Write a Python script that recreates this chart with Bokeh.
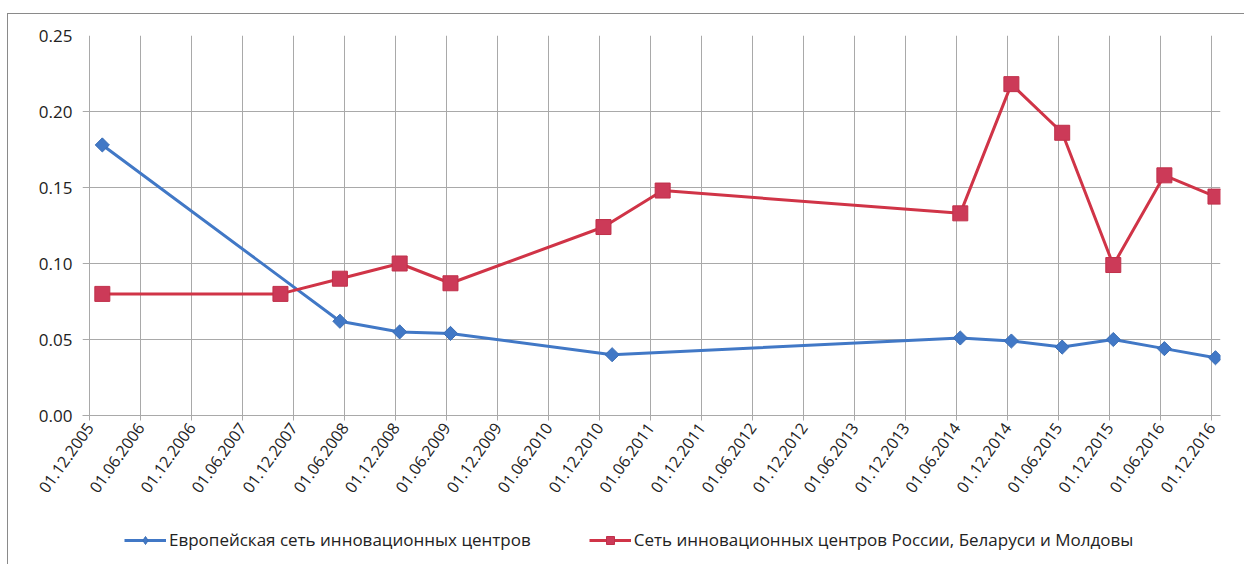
from datetime import datetime, timedelta
from math import pi

from bokeh.embed import file_html
from bokeh.layouts import column
from bokeh.models import (DatetimeTickFormatter, FixedTicker, Legend,
                          LegendItem, NumeralTickFormatter, Range1d)
from bokeh.plotting import figure
from bokeh.resources import INLINE

# Axis ticks: every half year from 01.12.2005 to 01.12.2016
tick_labels = [
    "01.12.2005", "01.06.2006", "01.12.2006", "01.06.2007", "01.12.2007",
    "01.06.2008", "01.12.2008", "01.06.2009", "01.12.2009", "01.06.2010",
    "01.12.2010", "01.06.2011", "01.12.2011", "01.06.2012", "01.12.2012",
    "01.06.2013", "01.12.2013", "01.06.2014", "01.12.2014", "01.06.2015",
    "01.12.2015", "01.06.2016", "01.12.2016",
]
y_ticks = [0.00, 0.05, 0.10, 0.15, 0.20, 0.25]

# European network of innovation centres
eu_dates = [
    "15.01.2006", "15.05.2008", "15.12.2008", "15.06.2009", "15.01.2011",
    "15.06.2014", "15.12.2014", "15.06.2015", "15.12.2015", "15.06.2016",
    "15.12.2016",
]
eu_values = [0.178, 0.062, 0.055, 0.054, 0.040, 0.051, 0.049, 0.045, 0.050,
             0.044, 0.038]

# Network of innovation centres of Russia, Belarus and Moldova
rbm_dates = [
    "15.01.2006", "15.10.2007", "15.05.2008", "15.12.2008", "15.06.2009",
    "15.12.2010", "15.07.2011", "15.06.2014", "15.12.2014", "15.06.2015",
    "15.12.2015", "15.06.2016", "15.12.2016",
]
rbm_values = [0.080, 0.080, 0.090, 0.100, 0.087, 0.124, 0.148, 0.133, 0.218,
              0.186, 0.099, 0.158, 0.144]

eu_name = "Европейская сеть инновационных центров"
rbm_name = "Сеть инновационных центров России, Беларуси и Молдовы"


def parse(s):
    return datetime.strptime(s, "%d.%m.%Y")


def ms(d):
    return d.timestamp() * 1000.0


ticks = [ms(parse(t)) for t in tick_labels]
eu_x = [parse(d) for d in eu_dates]
rbm_x = [parse(d) for d in rbm_dates]

FONT = "Open Sans"
TEXT = "#222222"
GRID = "#a9a9a9"
BLUE = "#4178c6"
BLUE_EDGE = "#3a6db5"
RED = "#d03447"
RED_MARK = "#cc3a58"
RED_EDGE = "#c0304a"

x_start = parse(tick_labels[0]) - timedelta(days=26)
x_end = parse(tick_labels[-1]) + timedelta(days=32)

p = figure(
    width=1236, height=501,
    x_axis_type="datetime",
    x_range=Range1d(x_start, x_end),
    y_range=Range1d(0, 0.25),
    output_backend="svg", toolbar_location=None,
    min_border_left=74, min_border_right=24,
    min_border_top=21, min_border_bottom=100,
    background_fill_color="white", border_fill_color="white",
)
p.outline_line_color = None

# x axis
p.xaxis.ticker = FixedTicker(ticks=ticks)
p.xaxis.formatter = DatetimeTickFormatter(
    days="%d.%m.%Y", months="%d.%m.%Y", years="%d.%m.%Y")
p.xaxis.major_label_orientation = 0.95
p.xaxis.major_label_text_font = FONT
p.xaxis.major_label_text_font_size = "16px"
p.xaxis.major_label_text_color = TEXT
p.xaxis.axis_line_color = GRID
p.xaxis.major_tick_line_color = GRID
p.xaxis.major_tick_out = 5
p.xaxis.major_tick_in = 0
p.xaxis.minor_tick_line_color = None
p.xaxis.major_label_standoff = 4

# y axis
p.yaxis.ticker = FixedTicker(ticks=y_ticks)
p.yaxis.formatter = NumeralTickFormatter(format="0.00")
p.yaxis.major_label_text_font = FONT
p.yaxis.major_label_text_font_size = "17px"
p.yaxis.major_label_text_color = TEXT
p.yaxis.axis_line_color = None
p.yaxis.major_tick_line_color = None
p.yaxis.major_tick_out = 0
p.yaxis.major_tick_in = 0
p.yaxis.minor_tick_line_color = None
p.yaxis.major_label_standoff = 10

p.xgrid.grid_line_color = GRID
p.ygrid.grid_line_color = GRID

# series (blue markers are squares turned 45 degrees)
p.line(eu_x, eu_values, line_color=BLUE, line_width=3)
p.scatter(eu_x, eu_values, marker="square", size=10, angle=pi / 4,
          fill_color=BLUE, line_color=BLUE_EDGE, line_width=1)
p.line(rbm_x, rbm_values, line_color=RED, line_width=3)
p.scatter(rbm_x, rbm_values, marker="square", size=15,
          fill_color=RED_MARK, line_color=RED_EDGE, line_width=1)

# legend strip under the chart; its key glyphs sit outside the visible range
lf = figure(
    width=1236, height=49,
    x_range=Range1d(0, 1), y_range=Range1d(0, 1),
    output_backend="svg", toolbar_location=None,
    min_border=0, background_fill_color="white", border_fill_color="white",
)
lf.axis.visible = False
lf.grid.visible = False
lf.outline_line_color = None
off = [-5, -4]
k_eu_line = lf.line(off, off, line_color=BLUE, line_width=3)
k_eu_pts = lf.scatter(off, off, marker="diamond", size=12,
                      fill_color=BLUE, line_color=BLUE_EDGE)
k_rbm_line = lf.line(off, off, line_color=RED, line_width=3)
k_rbm_pts = lf.scatter(off, off, marker="square", size=11,
                       fill_color=RED_MARK, line_color=RED_EDGE)

legend = Legend(
    items=[LegendItem(label=eu_name, renderers=[k_eu_line, k_eu_pts]),
           LegendItem(label=rbm_name, renderers=[k_rbm_line, k_rbm_pts])],
    orientation="horizontal",
    location=(42, 13),
    glyph_width=42, glyph_height=20,
    label_standoff=3, spacing=58,
    padding=0, margin=0,
    border_line_color=None, background_fill_alpha=0,
    label_text_font=FONT, label_text_font_size="17px",
    label_text_color=TEXT,
)
lf.add_layout(legend, "center")

# the chart box sits 7px in and 13px down, with a thin top/left border
layout = column(p, lf, spacing=0,
                styles={"margin-left": "7px", "margin-top": "13px",
                        "border-top": "1px solid #8a8a8a",
                        "border-left": "1px solid #8a8a8a"})

open("out.html", "w").write(file_html(layout, INLINE))
